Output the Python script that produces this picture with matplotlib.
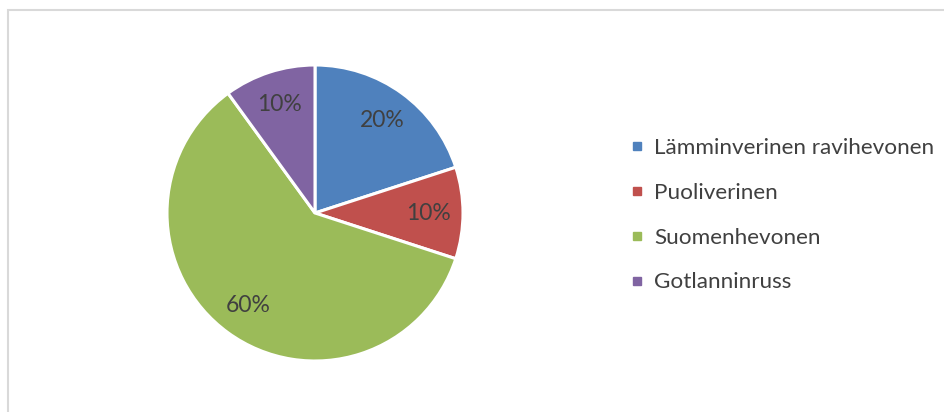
import matplotlib.pyplot as plt
from matplotlib.lines import Line2D
from matplotlib.patches import Rectangle

labels = ["Lämminverinen ravihevonen", "Puoliverinen", "Suomenhevonen", "Gotlanninruss"]
shares = [20, 10, 60, 10]
colors = ["#4F81BD", "#C0504D", "#9BBB59", "#8064A2"]
textColor = "#404040"

W, H = 944, 412
fig = plt.figure(figsize=(W / 100, H / 100), dpi=100)
ax = fig.add_axes([0, 0, 1, 1])
ax.set_xlim(0, W)
ax.set_ylim(0, H)
ax.set_aspect("equal")
ax.axis("off")

# chart area border (only top and left edges fall inside the image)
ax.add_patch(Rectangle((7.5, -20), W + 20, H - 9.5 + 20, fill=False,
                       edgecolor="#D9D9D9", linewidth=1.5))

wedges, texts, autotexts = ax.pie(
    shares, colors=colors, center=(315, H - 213), radius=148,
    startangle=90, counterclock=False, autopct="%d%%", pctdistance=0.77,
    wedgeprops=dict(edgecolor="white", linewidth=2.2),
    textprops=dict(color=textColor, fontsize=16.5, family="Lato"))
ax.set_xlim(0, W)
ax.set_ylim(0, H)

handles = [Line2D([], [], marker="s", linestyle="none", markersize=6,
                  markerfacecolor=c, markeredgecolor=c) for c in colors]
leg = ax.legend(handles, labels, loc="upper left",
                bbox_to_anchor=(610 / W, 1 - 118 / H), frameon=False,
                handlelength=0.6, handletextpad=0.45, labelspacing=1.1,
                prop=dict(family="Lato", size=16.2))
for t in leg.get_texts():
    t.set_color(textColor)

fig.savefig("out.png", dpi=100, facecolor="white")
